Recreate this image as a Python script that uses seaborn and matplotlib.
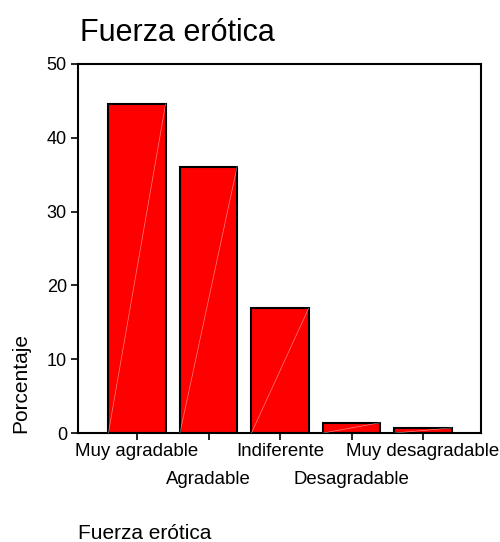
import matplotlib
matplotlib.use("Agg")
import matplotlib.pyplot as plt
import seaborn as sns
import pandas as pd

# values
categorias = ["Muy agradable", "Agradable", "Indiferente", "Desagradable", "Muy desagradable"]
porcentajes = [44.6, 36.1, 16.9, 1.4, 0.7]
y_ticks = [0, 10, 20, 30, 40, 50]

df = pd.DataFrame({"Fuerza erótica": categorias, "Porcentaje": porcentajes})

sns.set_style("white")
plt.rcParams["font.family"] = ["Liberation Sans", "DejaVu Sans"]
plt.rcParams["text.color"] = "black"
plt.rcParams["xtick.color"] = "black"
plt.rcParams["ytick.color"] = "black"

fig = plt.figure(figsize=(5.0, 5.42), dpi=100)
ax = fig.add_axes([0.156, 0.201, 0.806, 0.681])

sns.barplot(data=df, x="Fuerza erótica", y="Porcentaje", color="#ff0000",
            edgecolor="black", linewidth=1.5, width=0.8, saturation=1, ax=ax)

# faint diagonal streak inside each bar, like the original export
for p in ax.patches:
    x0, w, h = p.get_x(), p.get_width(), p.get_height()
    ax.plot([x0, x0 + w], [0, h], color="white", lw=0.5, alpha=0.5, zorder=3)

ax.set_xlim(-0.825, 4.81)
ax.set_ylim(0, 50)
ax.set_yticks(y_ticks)
ax.set_yticklabels([str(t) for t in y_ticks], fontsize=13)
ax.set_xticks(range(len(categorias)))
ax.set_xticklabels(categorias, fontsize=13.4)
ax.tick_params(axis="both", direction="out", length=5, width=1.2,
               bottom=True, left=True, colors="black")
ax.tick_params(axis="y", pad=3)
# alternate rows for the category labels
for i, t in enumerate(ax.xaxis.get_major_ticks()):
    t.set_pad(2 if i % 2 == 0 else 22)
for s in ax.spines.values():
    s.set_visible(True)
    s.set_color("black")
    s.set_linewidth(1.5)

ax.set_xlabel("")
ax.set_ylabel("")
fig.text(0.16, 0.94, "Fuerza erótica", fontsize=22, ha="left", va="center")
fig.text(0.042, 0.293, "Porcentaje", fontsize=15, rotation=90, ha="center", va="center")
fig.text(0.156, 0.0166, "Fuerza erótica", fontsize=15, ha="left", va="center")

fig.savefig("out.png", dpi=100)
